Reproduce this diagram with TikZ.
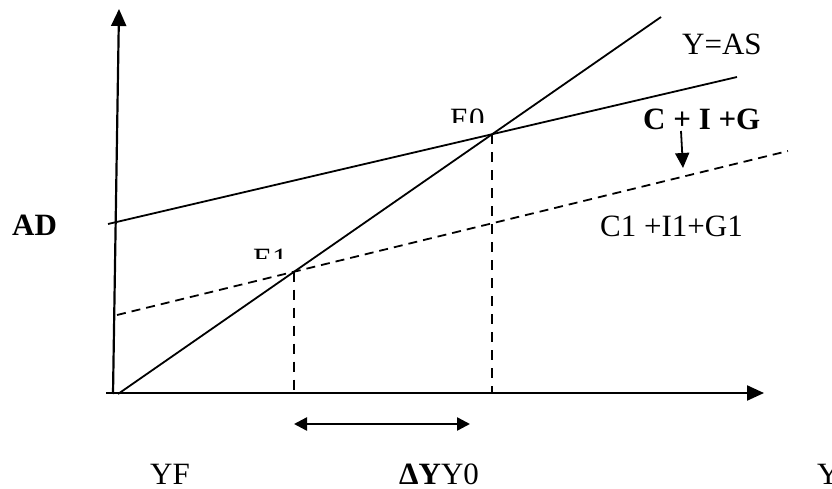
\documentclass[tikz,border=0pt]{standalone}
\usepackage{fontspec}
\setmainfont{Liberation Serif}
\usetikzlibrary{arrows.meta,intersections}
\begin{document}
\begin{tikzpicture}[x=1pt,y=-1pt,
  lbl/.style={inner sep=0pt, anchor=base west, font=\fontsize{31}{36}\selectfont},
  ln/.style={line width=1.8pt},
  dsh/.style={line width=1.8pt, dash pattern=on 9pt off 6pt},
  vdsh/.style={line width=1.6pt, dash pattern=on 10pt off 8pt},
  axis/.style={line width=2.2pt, -{Triangle[length=17pt,width=15pt]}},
  dbl/.style={line width=2.4pt, {Triangle[length=13pt,width=13pt]}-{Triangle[length=13pt,width=13pt]}},
  shiftarrow/.style={line width=1.8pt, -{Triangle[length=15pt,width=14pt]}}]
\useasboundingbox (0,0) rectangle (832,489);
% axes
\coordinate (yb) at (113,394);
\coordinate (yt) at (119,9);
\coordinate (xl) at (106,393);
\coordinate (xr) at (764,393);
\draw[axis] (yb) -- (yt);
\draw[axis] (xl) -- (xr);
% curves
\coordinate (as0) at (118,394);
\coordinate (as1) at (661,17);
\coordinate (c0) at (108,224);
\coordinate (c1) at (737,77);
\coordinate (d0) at (117,315);
\coordinate (d1) at (788,151);
\draw[ln, name path=as] (as0) -- (as1);
\draw[ln, name path=cig] (c0) -- (c1);
\draw[dsh, name path=cig1] (d0) -- (d1);
\path[name intersections={of=as and cig, by=E0}];
\path[name intersections={of=as and cig1, by=E1}];
\draw[vdsh] (E0) -- (E0 |- xl);
\draw[vdsh] (E1) -- (E1 |- xl);
% change in Y
\coordinate (da) at (294,424);
\coordinate (db) at (470,424);
\draw[dbl] (da) -- (db);
% shift arrow
\coordinate (sa) at (681,131);
\coordinate (sb) at (683,168);
\draw[shiftarrow] (sa) -- (sb);
% labels
\node[lbl] (las) at (682,55) {Y=AS};
\node[lbl] (lcig) at (643,130) {\textbf{C + I +G}};
\node[lbl] (lcig1) at (600,236) {C1 +I1+G1};
\node[lbl] (lad) at (12,235) {\textbf{AD}};
\begin{scope}
  \clip (440,95) rectangle (500,123);
  \node[lbl] (le0) at (450,130) {E0};
\end{scope}
\begin{scope}
  \clip (245,235) rectangle (300,258);
  \node[lbl] (le1) at (253,269) {E1};
\end{scope}
\node[lbl] (lyf) at (150,484) {YF};
\node[lbl] (ldy) at (399,484) {\textbf{ΔY}Y0};
\node[lbl] (ly) at (817,484) {Y};
\end{tikzpicture}
\end{document}
